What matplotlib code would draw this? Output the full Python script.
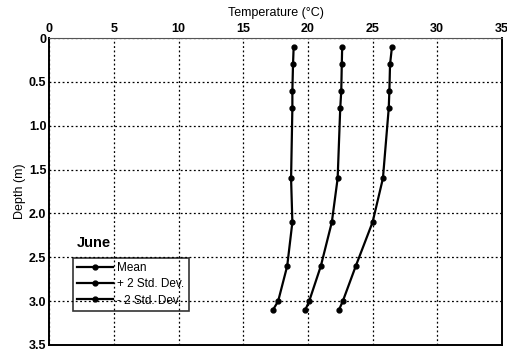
import matplotlib.pyplot as plt

plt.rcParams['font.family'] = ['Liberation Sans', 'DejaVu Sans']

# June water temperature profile
depth = [0.1, 0.3, 0.6, 0.8, 1.6, 2.1, 2.6, 3.0, 3.1]
t_mean = [22.65, 22.62, 22.58, 22.5, 22.3, 21.85, 21.0, 20.1, 19.8]
t_plus = [26.5, 26.35, 26.3, 26.25, 25.8, 25.0, 23.7, 22.7, 22.4]
t_minus = [18.9, 18.85, 18.8, 18.8, 18.7, 18.8, 18.4, 17.7, 17.3]

x_ticks = [0, 5, 10, 15, 20, 25, 30, 35]
y_ticks = [0, 0.5, 1.0, 1.5, 2.0, 2.5, 3.0, 3.5]
y_labels = ['0', '0.5', '1.0', '1.5', '2.0', '2.5', '3.0', '3.5']

fig = plt.figure(figsize=(5.07, 3.59), dpi=100)
ax = fig.add_axes([0.097, 0.039, 0.893, 0.855])

ax.plot(t_mean, depth, 'k-', marker='o', ms=3.5, lw=1.6, label='Mean')
ax.plot(t_plus, depth, 'k-', marker='o', ms=3.5, lw=1.6, label='+ 2 Std. Dev.')
ax.plot(t_minus, depth, 'k-', marker='o', ms=3.5, lw=1.6, label='- 2 Std. Dev.')

ax.set_xlim(0, 35)
ax.set_ylim(3.5, 0)
ax.xaxis.tick_top()
ax.xaxis.set_label_position('top')
ax.set_xticks(x_ticks)
ax.set_yticks(y_ticks)
ax.set_yticklabels(y_labels)
ax.tick_params(length=0, labelsize=9, pad=2)
for lab in ax.get_xticklabels() + ax.get_yticklabels():
    lab.set_fontweight('bold')
ax.set_xlabel('Temperature (°C)', fontsize=9, labelpad=5)
ax.set_ylabel('Depth (m)', fontsize=9, labelpad=2)

ax.grid(True, color='k', linestyle=(0, (1.5, 2)), linewidth=0.9)
for side in ['left', 'right', 'bottom']:
    ax.spines[side].set_linewidth(1.4)
ax.spines['top'].set_linewidth(0.8)
ax.spines['top'].set_color('#555555')

ax.text(0.06, 0.332, 'June', transform=ax.transAxes, fontsize=10.5,
        fontweight='bold', ha='left', va='center')
leg = ax.legend(loc='upper left', bbox_to_anchor=(0.053, 0.283), fontsize=8.5,
                frameon=True, facecolor='none', edgecolor='k', fancybox=False,
                handlelength=3.0, handletextpad=0.4, borderpad=0.35,
                labelspacing=0.35, borderaxespad=0)
leg.get_frame().set_linewidth(1.2)

plt.savefig('out.png', dpi=100)
